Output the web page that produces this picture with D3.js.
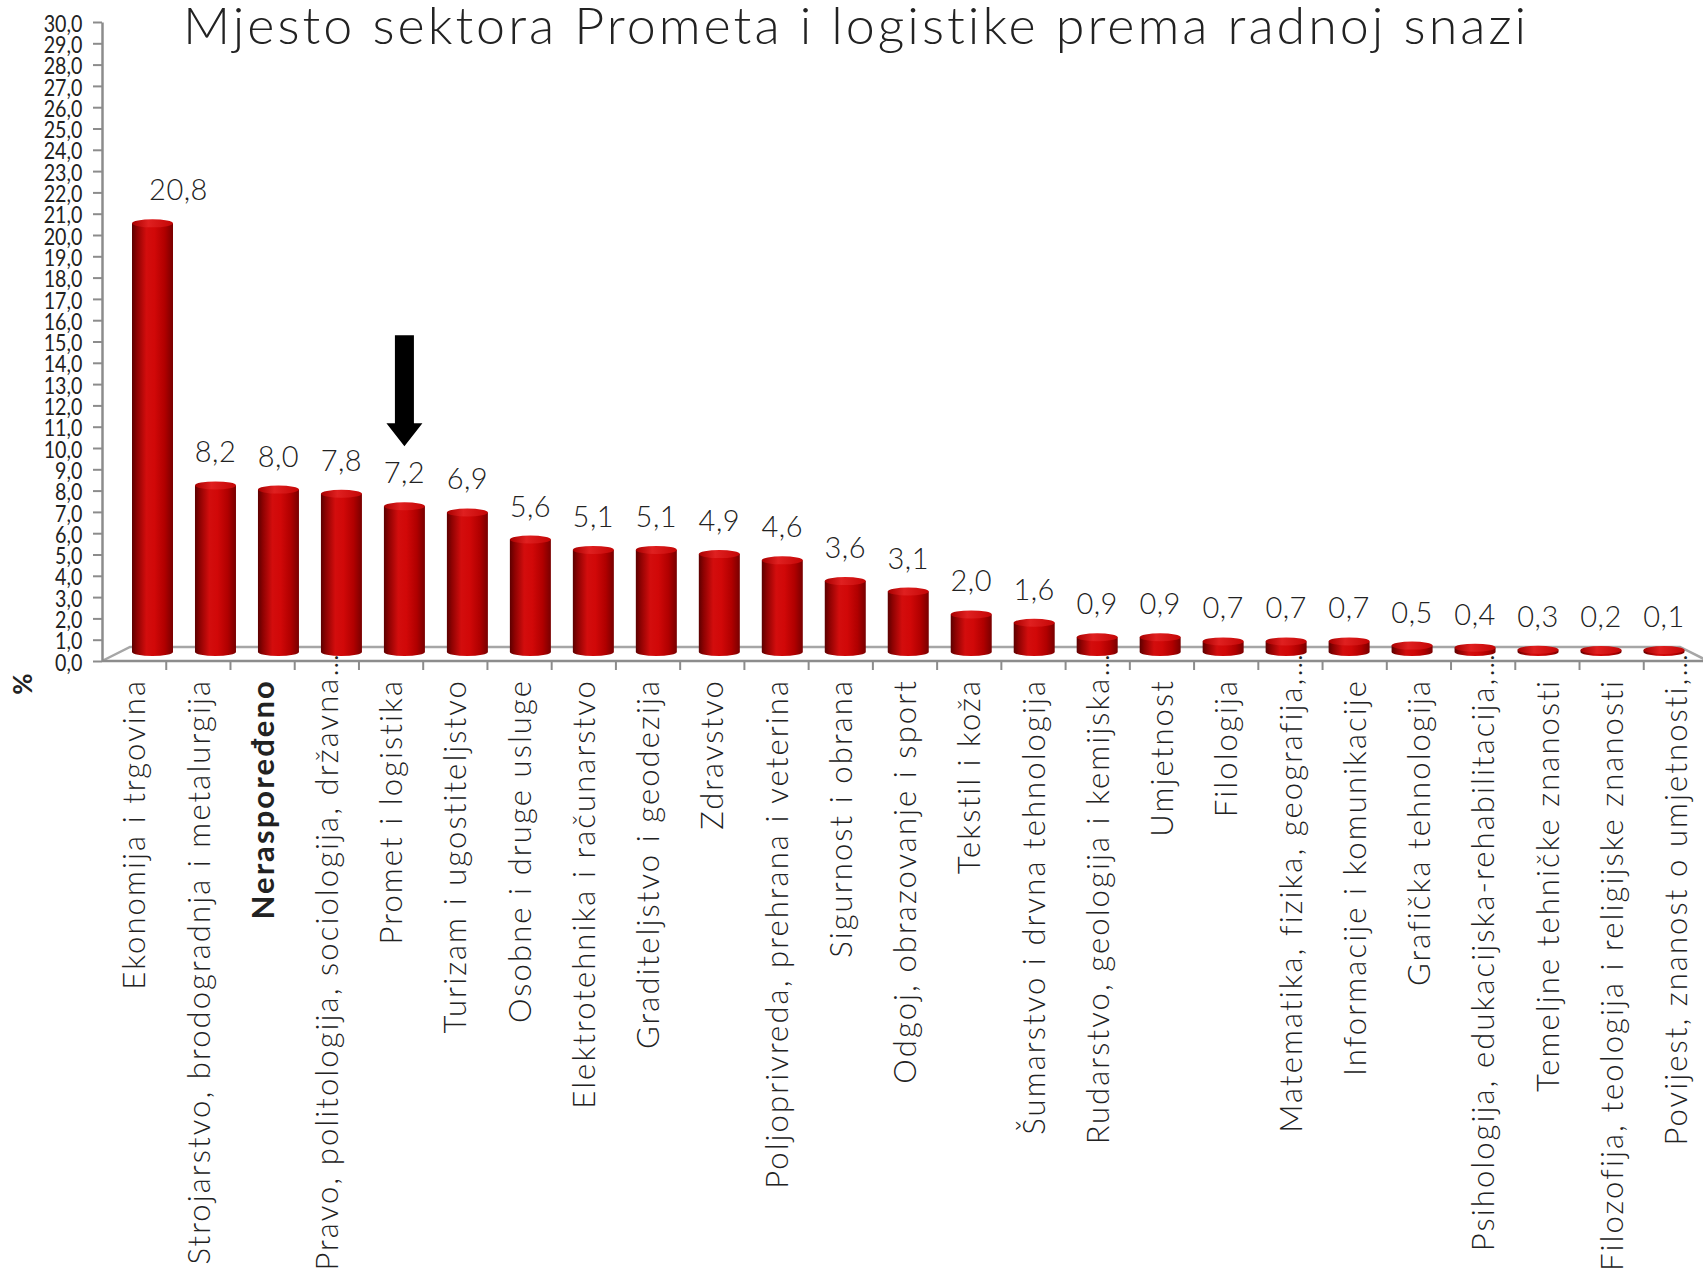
<!DOCTYPE html>
<html>
<head>
<meta charset="utf-8">
<script src="https://cdn.jsdelivr.net/npm/d3@7"></script>
<style>
  body { margin: 0; background: #fff; }
  text { font-family: Lato, "Noto Sans", sans-serif; fill: #222; }
</style>
</head>
<body>
<div id="chart"></div>
<script>
const title = 'Mjesto sektora Prometa i logistike prema radnoj snazi';

const categories = [
  'Ekonomija i trgovina',
  'Strojarstvo, brodogradnja i metalurgija',
  'Neraspoređeno',
  'Pravo, politologija, sociologija, državna…',
  'Promet i logistika',
  'Turizam i ugostiteljstvo',
  'Osobne i druge usluge',
  'Elektrotehnika i računarstvo',
  'Graditeljstvo i geodezija',
  'Zdravstvo',
  'Poljoprivreda, prehrana i veterina',
  'Sigurnost i obrana',
  'Odgoj, obrazovanje i sport',
  'Tekstil i koža',
  'Šumarstvo i drvna tehnologija',
  'Rudarstvo, geologija i kemijska…',
  'Umjetnost',
  'Filologija',
  'Matematika, fizika, geografija,…',
  'Informacije i komunikacije',
  'Grafička tehnologija',
  'Psihologija, edukacijska-rehabilitacija,…',
  'Temeljne tehničke znanosti',
  'Filozofija, teologija i religijske znanosti',
  'Povijest, znanost o umjetnosti,…'
];

const values = [20.8, 8.2, 8.0, 7.8, 7.2, 6.9, 5.6, 5.1, 5.1, 4.9, 4.6, 3.6, 3.1,
  2.0, 1.6, 0.9, 0.9, 0.7, 0.7, 0.7, 0.5, 0.4, 0.3, 0.2, 0.1];

const yTicks = [0, 1, 2, 3, 4, 5, 6, 7, 8, 9, 10, 11, 12, 13, 14, 15, 16, 17, 18, 19,
  20, 21, 22, 23, 24, 25, 26, 27, 28, 29, 30];

const boldCategory = 'Neraspoređeno';
const highlighted = 'Promet i logistika';
const unitLabel = '%';

const width = 1703;
const height = 1276;
const depth = { dx: 28, dy: 14 };
const barW = 41;
const ry = 4;

const data = categories.map((c, i) => ({ cat: c, value: values[i] }));
const fmt = v => d3.format('.1f')(v).replace('.', ',');

const svg = d3.select('#chart').append('svg')
  .attr('width', width)
  .attr('height', height);

const defs = svg.append('defs');
const side = defs.append('linearGradient').attr('id', 'cyl');
[[0, '#5c0000'], [0.12, '#8e0202'], [0.35, '#d30d0d'], [0.55, '#d10808'],
  [0.8, '#b00000'], [1, '#780000']].forEach(s => {
  side.append('stop').attr('offset', s[0]).attr('stop-color', s[1]);
});
const cap = defs.append('linearGradient').attr('id', 'cap');
[[0, '#a80000'], [0.4, '#e02020'], [1, '#c40606']].forEach(s => {
  cap.append('stop').attr('offset', s[0]).attr('stop-color', s[1]);
});

// scales
const xFront = d3.scaleBand().domain(categories).range([102, 1708]);
const xBar = d3.scalePoint().domain(categories).range([152.5, 1664]);
const yAxis = d3.scaleLinear().domain([0, 30]).range([661, 22]);
const yBar = d3.scaleLinear().domain([0, 30]).range([656, 656 - 30 * 20.8]);
const floorY = yAxis(0);
const bottomY = 652;

// floor
const floor = svg.append('g')
  .style('fill', 'none')
  .style('stroke', '#a6a6a6')
  .style('stroke-width', 2.5);
floor.append('path')
  .attr('d', `M${xFront.range()[0]},${floorY} L${xFront.range()[0] + depth.dx},${floorY - depth.dy}
    L${xFront.range()[1] - depth.dx},${floorY - depth.dy} L${xFront.range()[1]},${floorY}`);

// y axis
const gy = svg.append('g')
  .attr('transform', `translate(${xFront.range()[0]},0)`)
  .call(d3.axisLeft(yAxis).tickValues(yTicks).tickSize(9).tickSizeOuter(0).tickFormat(fmt));
gy.select('.domain').style('stroke', '#8c8c8c').style('stroke-width', 2.5);
gy.selectAll('.tick line').style('stroke', '#8c8c8c').style('stroke-width', 2);
gy.selectAll('.tick text')
  .attr('x', -24)
  .attr('dy', '0.38em')
  .attr('transform', 'scale(0.82,1)')
  .style('font-size', '24px')
  .style('font-family', 'Lato, "Noto Sans", sans-serif')
  .style('fill', '#222');

// x axis front line and boundary ticks
const gx = svg.append('g')
  .style('stroke', '#8c8c8c')
  .style('stroke-width', 2.5);
gx.append('line')
  .attr('x1', xFront.range()[0]).attr('x2', xFront.range()[1])
  .attr('y1', floorY).attr('y2', floorY);
gx.selectAll('.xtick')
  .data(categories.slice(1))
  .enter()
  .append('line')
  .attr('class', 'xtick')
  .attr('x1', d => xFront(d)).attr('x2', d => xFront(d))
  .attr('y1', floorY).attr('y2', floorY + 9)
  .style('stroke-width', 2);

// bars
const bars = svg.selectAll('.bar')
  .data(data)
  .enter()
  .append('g')
  .attr('class', 'bar');

bars.append('path')
  .attr('d', d => {
    const cx = xBar(d.cat);
    const l = cx - barW / 2;
    const r = cx + barW / 2;
    const top = Math.min(yBar(d.value), bottomY - 2);
    return `M${l},${top} L${l},${bottomY} A${barW / 2},${ry} 0 0 0 ${r},${bottomY} L${r},${top} Z`;
  })
  .style('fill', 'url(#cyl)');

bars.append('ellipse')
  .attr('cx', d => xBar(d.cat))
  .attr('cy', d => Math.min(yBar(d.value), bottomY - 2))
  .attr('rx', barW / 2)
  .attr('ry', ry)
  .style('fill', 'url(#cap)');

// value labels
svg.selectAll('.val')
  .data(data)
  .enter()
  .append('text')
  .attr('class', 'val')
  .attr('x', (d, i) => xBar(d.cat) + (i === 0 ? 26 : 0))
  .attr('y', d => Math.min(yBar(d.value), bottomY - 2) - 23)
  .attr('text-anchor', 'middle')
  .style('font-size', '29px')
  .style('letter-spacing', '0.5px')
  .style('font-weight', 300)
  .text(d => fmt(d.value));

// category labels
svg.selectAll('.cat')
  .data(categories)
  .enter()
  .append('text')
  .attr('class', 'cat')
  .attr('transform', d => {
    const x = xFront(d) + xFront.bandwidth() / 2;
    const y = d.endsWith('…') ? 652 : 679;
    return `translate(${x},${y}) rotate(-90)`;
  })
  .attr('text-anchor', 'end')
  .attr('dy', '0.36em')
  .style('font-size', '31px')
  .style('letter-spacing', '2.1px')
  .style('font-weight', d => (d === boldCategory ? 700 : 300))
  .text(d => d);

// unit label
svg.append('text')
  .attr('transform', 'translate(23,684) rotate(-90)')
  .attr('text-anchor', 'middle')
  .attr('dy', '0.35em')
  .style('font-size', '26px')
  .style('font-weight', 700)
  .text(unitLabel);

// arrow pointing to the highlighted sector
const hi = data.find(d => d.cat === highlighted);
const ax = xBar(hi.cat);
const tip = yBar(hi.value) - 60;
svg.append('path')
  .attr('d', `M${ax - 9.5},${tip - 111} L${ax + 9.5},${tip - 111} L${ax + 9.5},${tip - 23}
    L${ax + 18},${tip - 23} L${ax},${tip} L${ax - 18},${tip - 23} L${ax - 9.5},${tip - 23} Z`)
  .style('fill', '#000');

// title
svg.append('text')
  .attr('x', 856)
  .attr('y', 44)
  .attr('text-anchor', 'middle')
  .style('font-size', '52px')
  .style('letter-spacing', '3px')
  .style('font-weight', 300)
  .text(title);
</script>
</body>
</html>
